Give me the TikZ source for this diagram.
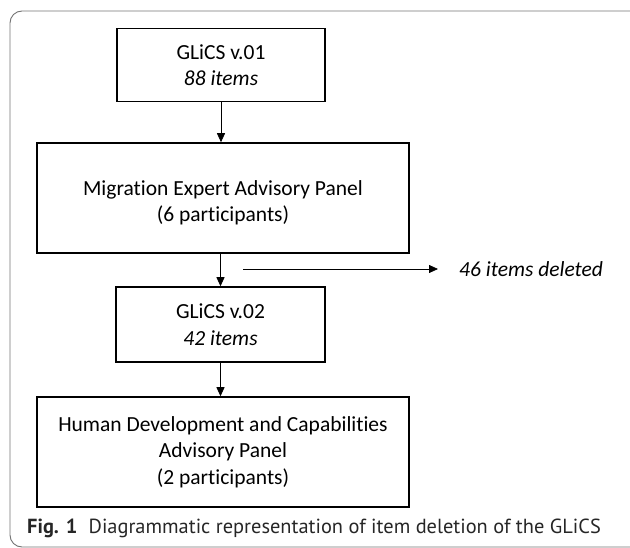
\documentclass[tikz,border=0pt]{standalone}
\usepackage{fontspec}
\setmainfont[Ligatures=NoCommon]{Carlito}
\newfontfamily\capfont[Ligatures=NoCommon]{PT Sans}
\usetikzlibrary{arrows.meta}
\tikzset{
  boxtext/.style={align=center, inner sep=0pt, font=\fontsize{21.5}{26.5}\selectfont},
  box/.style={draw, line width=1.5pt, boxtext},
  flow/.style={line width=0.8pt, -{Triangle[length=9pt,width=8pt]}},
  frame/.style={draw=black!55, line width=0.9pt, rounded corners=12pt}
}
\begin{document}
\begin{tikzpicture}[x=1pt,y=-1pt]
\useasboundingbox (0,0) rectangle (630,548);
\clip (0,0) rectangle (630,548);
\draw[frame] (660,11) -- (10,11) -- (10,547) -- (660,547);

\node[box, minimum width=208pt, minimum height=73pt] (b1) at (221,65)
  {GLiCS v.01\\\textit{88 items}};
\node[box, minimum width=372pt, minimum height=110pt,
  label={[boxtext, yshift=-5pt]center:{Migration Expert Advisory Panel\\(6 participants)}}] (b2) at (223,198) {};
\node[box, minimum width=209pt, minimum height=75pt] (b3) at (220.5,324.5)
  {GLiCS v.02\\\textit{42 items}};
\node[box, minimum width=372pt, minimum height=110pt] (b4) at (223,452)
  {Human Development and Capabilities\\Advisory Panel\\(2 participants)};

\coordinate (hs) at (243,269);
\node[anchor=west, inner sep=0pt, font=\fontsize{21.5}{27}\selectfont\itshape] (del) at (459,269) {46 items deleted};

\draw[flow] (b1.south) -- (b1.south |- b2.north);
\draw[flow] (b3.north |- b2.south) -- (b3.north);
\draw[flow] (b3.south) -- (b3.south |- b4.north);
\draw[flow, shorten >=21pt] (hs) -- (del.west);

\node[anchor=west, inner sep=0pt, font=\capfont\fontsize{20.4}{22}\selectfont, text=black!85] (cap) at (27,528)
  {\textbf{Fig. 1}\hspace{0.55em}Diagrammatic representation of item deletion of the GLiCS};
\end{tikzpicture}
\end{document}
